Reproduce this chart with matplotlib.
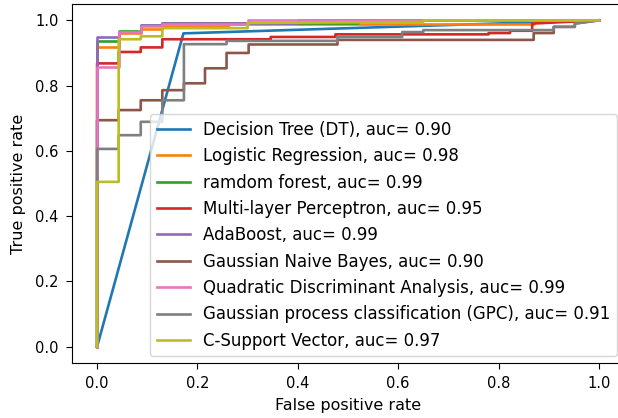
import matplotlib
matplotlib.use('Agg')
import matplotlib.pyplot as plt

# ROC points (fpr, tpr)
dt_fpr = [0, 0.172, 1]
dt_tpr = [0, 0.96, 1]

lr_fpr = [0, 0, 0.043, 0.043, 0.087, 0.087, 0.13, 0.13, 0.26, 0.26, 0.87, 0.87, 1]
lr_tpr = [0, 0.917, 0.917, 0.96, 0.96, 0.972, 0.972, 0.982, 0.982, 0.99, 0.99, 1.0, 1.0]

rf_fpr = [0, 0, 0.043, 0.043, 0.087, 0.087, 0.13, 0.13, 0.52, 0.52, 1]
rf_tpr = [0, 0.937, 0.937, 0.967, 0.967, 0.985, 0.985, 0.993, 0.993, 1.0, 1.0]

mlp_fpr = [0, 0, 0.043, 0.043, 0.087, 0.087, 0.13, 0.13, 0.346, 0.346, 0.475, 0.475,
           0.78, 0.78, 0.823, 0.823, 0.867, 0.867, 1]
mlp_tpr = [0, 0.868, 0.868, 0.903, 0.903, 0.917, 0.917, 0.942, 0.942, 0.949, 0.949, 0.957,
           0.957, 0.961, 0.961, 0.968, 0.968, 0.99, 1.0]

ada_fpr = [0, 0, 0.043, 0.043, 0.087, 0.087, 0.13, 0.13, 0.4, 0.4, 1]
ada_tpr = [0, 0.948, 0.948, 0.964, 0.964, 0.985, 0.985, 0.993, 0.993, 1.0, 1.0]

gnb_fpr = [0, 0, 0.043, 0.043, 0.087, 0.087, 0.13, 0.13, 0.173, 0.173, 0.215, 0.215,
           0.258, 0.258, 0.302, 0.302, 0.479, 0.479, 0.87, 0.87, 0.91, 0.91, 0.952, 0.952, 1]
gnb_tpr = [0, 0.694, 0.694, 0.725, 0.725, 0.755, 0.755, 0.786, 0.786, 0.807, 0.807, 0.853,
           0.853, 0.9, 0.9, 0.926, 0.926, 0.94, 0.94, 0.961, 0.961, 0.98, 0.98, 0.99, 1.0]

qda_fpr = [0, 0, 0.043, 0.043, 0.087, 0.087, 0.13, 0.13, 0.3, 0.3, 1]
qda_tpr = [0, 0.857, 0.857, 0.963, 0.963, 0.982, 0.982, 0.99, 0.99, 1.0, 1.0]

gpc_fpr = [0, 0, 0.043, 0.043, 0.087, 0.087, 0.13, 0.13, 0.173, 0.173, 0.258, 0.258,
           0.479, 0.479, 0.608, 0.608, 0.65, 0.65, 0.91, 0.91, 0.952, 0.952, 1]
gpc_tpr = [0, 0.606, 0.606, 0.648, 0.648, 0.689, 0.689, 0.755, 0.755, 0.927, 0.927, 0.937,
           0.937, 0.949, 0.949, 0.964, 0.964, 0.97, 0.97, 0.98, 0.98, 0.99, 1.0]

svc_fpr = [0, 0, 0.043, 0.043, 0.087, 0.087, 0.13, 0.13, 0.3, 0.3, 0.65, 0.65, 1]
svc_tpr = [0, 0.505, 0.505, 0.942, 0.942, 0.951, 0.951, 0.976, 0.976, 0.992, 0.995, 1.0, 1.0]

curves = [
    (dt_fpr, dt_tpr, 'Decision Tree (DT), auc= 0.90'),
    (lr_fpr, lr_tpr, 'Logistic Regression, auc= 0.98'),
    (rf_fpr, rf_tpr, 'ramdom forest, auc= 0.99'),
    (mlp_fpr, mlp_tpr, 'Multi-layer Perceptron, auc= 0.95'),
    (ada_fpr, ada_tpr, 'AdaBoost, auc= 0.99'),
    (gnb_fpr, gnb_tpr, 'Gaussian Naive Bayes, auc= 0.90'),
    (qda_fpr, qda_tpr, 'Quadratic Discriminant Analysis, auc= 0.99'),
    (gpc_fpr, gpc_tpr, 'Gaussian process classification (GPC), auc= 0.91'),
    (svc_fpr, svc_tpr, 'C-Support Vector, auc= 0.97'),
]

fig = plt.figure(figsize=(6.18, 4.18), dpi=100)
# the reference is cropped on the right, so the axes run past the figure edge
ax = fig.add_axes([72 / 618, 55 / 418, 552 / 618, 359 / 418])

for fpr, tpr, label in curves:
    ax.plot(fpr, tpr, label=label, linewidth=1.9)

ax.set_xlabel('False positive rate', fontsize=11.5, labelpad=5)
ax.set_ylabel('True positive rate', fontsize=11.5, labelpad=7)
ax.tick_params(labelsize=10.5, length=4.5, pad=5)
ax.legend(loc='lower right', fontsize=12, borderaxespad=0.4)

fig.savefig('out.png', dpi=100)
